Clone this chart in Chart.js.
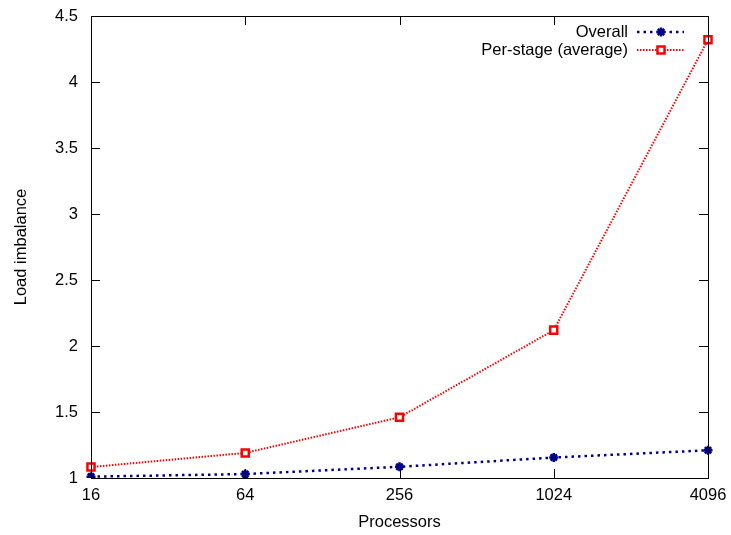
<!DOCTYPE html>
<html>
<head>
<meta charset="UTF-8">
<title>Load imbalance</title>
<script src="https://cdn.jsdelivr.net/npm/chart.js"></script>
<style>
  html, body { margin: 0; padding: 0; background: #fff; }
</style>
</head>
<body>
<canvas id="c" width="731" height="535"></canvas>
<script>
const processors = ['16', '64', '256', '1024', '4096'];
const overall = [1.01, 1.03, 1.085, 1.155, 1.21];
const perStage = [1.083, 1.19, 1.46, 2.12, 4.32];
const yTicks = [1, 1.5, 2, 2.5, 3, 3.5, 4, 4.5];

const FONT = 'Liberation Sans, Arial, sans-serif';
const FSIZE = 16.5;
const BLUE = '#00008b';
const RED = '#ff0000';

// gnuplot-like frame: box plus inward ticks on every side, and the key
const framePlugin = {
  id: 'frame',
  afterDraw(chart) {
    const { ctx, chartArea: a, scales } = chart;
    ctx.save();
    ctx.strokeStyle = '#000';
    ctx.lineWidth = 1;
    ctx.strokeRect(a.left + 0.5, a.top + 0.5, a.right - a.left, a.bottom - a.top);
    ctx.beginPath();
    yTicks.forEach(v => {
      const y = Math.round(scales.y.getPixelForValue(v)) + 0.5;
      ctx.moveTo(a.left, y); ctx.lineTo(a.left + 9, y);
      ctx.moveTo(a.right, y); ctx.lineTo(a.right - 9, y);
    });
    processors.forEach((p, i) => {
      const x = Math.round(scales.x.getPixelForValue(i)) + 0.5;
      ctx.moveTo(x, a.bottom); ctx.lineTo(x, a.bottom - 9);
      ctx.moveTo(x, a.top); ctx.lineTo(x, a.top + 9);
    });
    ctx.stroke();

    // key
    ctx.font = FSIZE + 'px ' + FONT;
    ctx.textAlign = 'right';
    ctx.textBaseline = 'middle';
    ctx.fillStyle = '#000';
    const rows = [
      { label: 'Overall', ds: chart.data.datasets[0], y: 32 },
      { label: 'Per-stage (average)', ds: chart.data.datasets[1], y: 50 }
    ];
    rows.forEach(r => {
      ctx.fillText(r.label, 628, r.y);
      ctx.save();
      ctx.strokeStyle = r.ds.borderColor;
      ctx.lineWidth = r.ds.borderWidth;
      ctx.setLineDash(r.ds.borderDash);
      ctx.beginPath();
      ctx.moveTo(637, r.y); ctx.lineTo(684, r.y);
      ctx.stroke();
      ctx.restore();
      ctx.save();
      ctx.strokeStyle = r.ds.borderColor;
      ctx.fillStyle = r.ds.pointBackgroundColor;
      ctx.lineWidth = r.ds.pointBorderWidth;
      Chart.helpers.drawPoint(ctx, {
        pointStyle: r.ds.pointStyle,
        radius: r.ds.pointRadius,
        borderWidth: r.ds.pointBorderWidth
      }, 661, r.y);
      ctx.restore();
    });
    ctx.restore();
  }
};

new Chart(document.getElementById('c'), {
  type: 'line',
  data: {
    labels: processors,
    datasets: [
      {
        label: 'Overall',
        data: overall,
        borderColor: BLUE,
        borderWidth: 2.5,
        borderDash: [2.5, 4],
        pointStyle: 'star',
        pointRadius: 4.5,
        pointBorderWidth: 2.5,
        pointBackgroundColor: BLUE,
        pointBorderColor: BLUE,
        fill: false,
        tension: 0
      },
      {
        label: 'Per-stage (average)',
        data: perStage,
        borderColor: RED,
        borderWidth: 2,
        borderDash: [1.5, 1.5],
        pointStyle: 'rect',
        pointRadius: 5,
        pointBorderWidth: 2.5,
        pointBackgroundColor: '#fff',
        pointBorderColor: RED,
        fill: false,
        tension: 0
      }
    ]
  },
  options: {
    responsive: false,
    animation: false,
    devicePixelRatio: 1,
    layout: { padding: { left: 0, right: 23, top: 16, bottom: 0 } },
    plugins: { legend: { display: false }, tooltip: { enabled: false } },
    scales: {
      x: {
        type: 'category',
        offset: false,
        grid: { display: false, drawTicks: false },
        border: { display: false },
        ticks: { color: '#000', font: { family: FONT, size: FSIZE }, padding: 8, maxRotation: 0 },
        title: { display: true, text: 'Processors', color: '#000', font: { family: FONT, size: FSIZE }, padding: { top: 8, bottom: 3 } },
        afterFit(s) { s.height = 57; s.paddingLeft = 0; s.paddingRight = 0; }
      },
      y: {
        min: 1,
        max: 4.5,
        afterBuildTicks(s) { s.ticks = yTicks.map(v => ({ value: v })); },
        grid: { display: false, drawTicks: false },
        border: { display: false },
        ticks: {
          color: '#000', font: { family: FONT, size: FSIZE }, padding: 13,
          callback: v => String(v)
        },
        title: { display: true, text: 'Load imbalance', color: '#000', font: { family: FONT, size: FSIZE }, padding: { top: 12, bottom: 0 } },
        afterFit(s) { s.width = 91; s.paddingTop = 0; s.paddingBottom = 0; }
      }
    }
  },
  plugins: [framePlugin]
});
</script>
</body>
</html>
